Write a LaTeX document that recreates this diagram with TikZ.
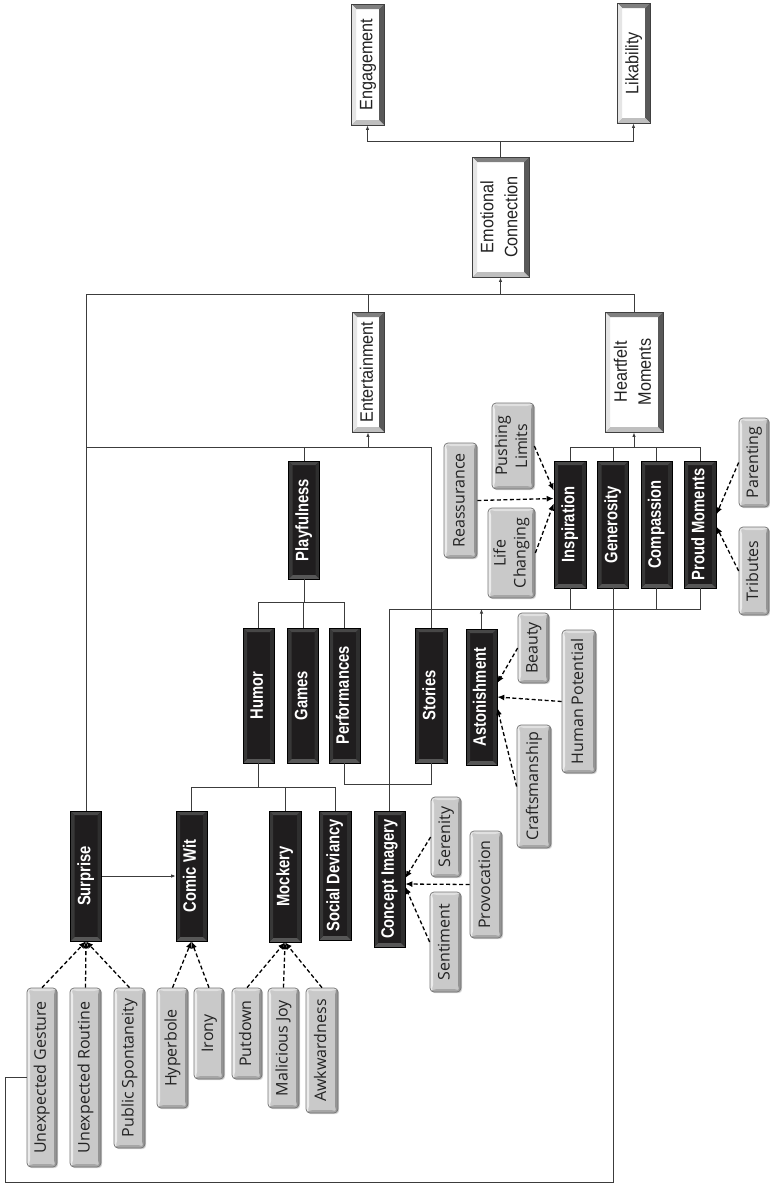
\documentclass[tikz,border=0pt]{standalone}
\usepackage{fontspec}
\usepackage{graphicx}
\usepackage{tikz}
\usetikzlibrary{arrows.meta,shadows,calc}
\setmainfont{Liberation Sans}
\newfontfamily\whitefont[FakeStretch=0.9]{Liberation Sans}
\newfontfamily\blackfont[FakeStretch=0.82]{Liberation Sans}
\newfontfamily\grayfont{Open Sans}
\definecolor{ink}{HTML}{222222}
\definecolor{wire}{HTML}{3C3C3C}
\definecolor{slab}{HTML}{1F1D1E}
\definecolor{pebble}{HTML}{C9C9C9}

\newcommand\vtxt[1]{\rotatebox{90}{\begin{tabular}{@{}c@{}}#1\end{tabular}}}

\tikzset{
  bevel/.style n args={5}{path picture={
      \coordinate (bA) at (path picture bounding box.north west);
      \coordinate (bB) at (path picture bounding box.north east);
      \coordinate (bC) at (path picture bounding box.south east);
      \coordinate (bD) at (path picture bounding box.south west);
      \fill[#1] (bA) -- (bB) -- ([shift={(-#5,-#5)}]bB) -- ([shift={(#5,-#5)}]bA) -- cycle;
      \fill[#2] (bB) -- (bC) -- ([shift={(-#5,#5)}]bC) -- ([shift={(-#5,-#5)}]bB) -- cycle;
      \fill[#3] (bC) -- (bD) -- ([shift={(#5,#5)}]bD) -- ([shift={(-#5,#5)}]bC) -- cycle;
      \fill[#4] (bD) -- (bA) -- ([shift={(#5,-#5)}]bA) -- ([shift={(#5,#5)}]bD) -- cycle;
  }},
  whitebox/.style={draw=black!75, line width=0.9pt, fill=white, inner sep=0pt, text=ink,
    font=\whitefont\fontsize{18}{24}\selectfont,
    bevel={black!50}{black!65}{black!25}{black!10}{5pt}},
  blackbox/.style={draw=black, line width=0.6pt, fill=slab, inner sep=0pt, text=white,
    font=\blackfont\bfseries\fontsize{18}{22}\selectfont,
    bevel={black!72}{black!82}{black!66}{black!78}{4pt}},
  graybox/.style={draw=black!55, line width=0.7pt, rounded corners=4pt, fill=pebble, inner sep=0pt, text=ink,
    font=\grayfont\fontsize{16}{20}\selectfont,
    drop shadow={shadow xshift=1.2pt, shadow yshift=-1.2pt, opacity=0.35},
    bevel={black!12}{black!42}{black!35}{black!8}{3pt}},
  conn/.style={draw=wire, line width=1pt},
  feed/.style={draw=black, line width=1.3pt, dash pattern=on 4pt off 2.5pt, -{Latex[length=7pt,width=6pt]}},
}

\begin{document}
\begin{tikzpicture}[x=1pt, y=-1pt, >={Latex[length=4.5pt,width=3.5pt]}]
\useasboundingbox (0,0) rectangle (769,1184);

% top level
\node[whitebox, minimum width=33pt, minimum height=121pt] (eng) at (367.5,64.5) {\vtxt{Engagement}};
\node[whitebox, minimum width=33pt, minimum height=120pt] (lik) at (633.5,63) {\vtxt{Likability}};
\node[whitebox, minimum width=57pt, minimum height=120pt] (emo) at (500.5,217) {\vtxt{Emotional\\Connection}};
\node[whitebox, minimum width=32pt, minimum height=120pt] (ent) at (368,372) {\vtxt{Entertainment}};
\node[whitebox, minimum width=58pt, minimum height=120pt] (heart) at (634,372) {\vtxt{Heartfelt\\Moments}};

% heartfelt side
\node[blackbox, minimum width=32pt, minimum height=127pt] (insp) at (570,524.5) {\vtxt{Inspiration}};
\node[blackbox, minimum width=31pt, minimum height=127pt] (gener) at (613,524.5) {\vtxt{Generosity}};
\node[blackbox, minimum width=31pt, minimum height=127pt] (compas) at (656.5,524.5) {\vtxt{Compassion}};
\node[blackbox, minimum width=32pt, minimum height=127pt] (proud) at (700,524.5) {\vtxt{Proud Moments}};
\node[graybox, minimum width=42pt, minimum height=86pt] (pushing) at (513,446) {\vtxt{Pushing\\Limits}};
\node[graybox, minimum width=33pt, minimum height=115pt] (reassure) at (460.5,500.5) {\vtxt{Reassurance}};
\node[graybox, minimum width=47pt, minimum height=90pt] (lifechg) at (511.5,553) {\vtxt{Life\\Changing}};
\node[graybox, minimum width=30pt, minimum height=89pt] (parent) at (754,462.5) {\vtxt{Parenting}};
\node[graybox, minimum width=30pt, minimum height=88pt] (tribute) at (754,571) {\vtxt{Tributes}};

% entertainment side
\node[blackbox, minimum width=31pt, minimum height=118pt] (play) at (304,520) {\vtxt{Playfulness}};
\node[blackbox, minimum width=31pt, minimum height=135pt] (humor) at (258.5,695.5) {\vtxt{Humor}};
\node[blackbox, minimum width=31pt, minimum height=135pt] (games) at (303,695.5) {\vtxt{Games}};
\node[blackbox, minimum width=31pt, minimum height=135pt] (perf) at (344.5,695.5) {\vtxt{Performances}};
\node[blackbox, minimum width=32pt, minimum height=135pt] (stories) at (431,695.5) {\vtxt{Stories}};
\node[blackbox, minimum width=31pt, minimum height=136pt] (astonish) at (481.5,697) {\vtxt{Astonishment}};
\node[graybox, minimum width=31pt, minimum height=70pt] (beauty) at (533.5,648) {\vtxt{Beauty}};
\node[graybox, minimum width=34pt, minimum height=143pt] (humpot) at (579,701.5) {\vtxt{Human Potential}};
\node[graybox, minimum width=34pt, minimum height=123pt] (craft) at (534,786.5) {\vtxt{Craftsmanship}};

\node[blackbox, minimum width=31pt, minimum height=130pt] (surprise) at (86,876) {\vtxt{Surprise}};
\node[blackbox, minimum width=31pt, minimum height=130pt] (comicwit) at (191.5,876) {\vtxt{Comic Wit}};
\node[blackbox, minimum width=32pt, minimum height=131pt] (mockery) at (285,876.5) {\vtxt{Mockery}};
\node[blackbox, minimum width=32pt, minimum height=129pt] (socdev) at (335,875.5) {\vtxt{Social Deviancy}};
\node[blackbox, minimum width=31pt, minimum height=136pt] (concept) at (389.5,879) {\vtxt{Concept Imagery}};
\node[graybox, minimum width=30pt, minimum height=80pt] (seren) at (446,837) {\vtxt{Serenity}};
\node[graybox, minimum width=32pt, minimum height=107pt] (provoc) at (486,884.5) {\vtxt{Provocation}};
\node[graybox, minimum width=31pt, minimum height=100pt] (sentim) at (445.5,942) {\vtxt{Sentiment}};

\node[graybox, minimum width=30pt, minimum height=179pt] (unexgest) at (42,1077.5) {\vtxt{Unexpected Gesture}};
\node[graybox, minimum width=31pt, minimum height=179pt] (unexrout) at (85.5,1077.5) {\vtxt{Unexpected Routine}};
\node[graybox, minimum width=31pt, minimum height=160pt] (pubspon) at (129.5,1068) {\vtxt{Public Spontaneity}};
\node[graybox, minimum width=31pt, minimum height=120pt] (hyper) at (172.5,1048) {\vtxt{Hyperbole}};
\node[graybox, minimum width=30pt, minimum height=91pt] (irony) at (209,1033.5) {\vtxt{Irony}};
\node[graybox, minimum width=30pt, minimum height=91pt] (putdown) at (247,1033.5) {\vtxt{Putdown}};
\node[graybox, minimum width=31pt, minimum height=120pt] (malijoy) at (283.5,1048) {\vtxt{Malicious Joy}};
\node[graybox, minimum width=32pt, minimum height=125pt] (awkward) at (322,1050.5) {\vtxt{Awkwardness}};

% bus heights
\coordinate (busA) at (0,141);
\coordinate (busB) at (0,294);
\coordinate (busC) at (0,447);
\coordinate (busD) at (0,602);
\coordinate (busE) at (0,609);
\coordinate (busF) at (0,784);
\coordinate (busG) at (0,787);
\coordinate (busH) at (5,1182);

% solid links
\draw[conn] (emo.north) -- (emo.north |- busA);
\draw[conn,->] (emo.north |- busA) -| (eng.south);
\draw[conn,->] (emo.north |- busA) -| (lik.south);
\draw[conn,->] (emo.south |- busB) -- (emo.south);
\draw[conn] (surprise.north) -- (surprise.north |- busB) -| (heart.north);
\draw[conn] (ent.north) -- (ent.north |- busB);

\draw[conn,->] (ent.south |- busC) -- (ent.south);
\draw[conn] (surprise.north |- busC) -| (stories.north);
\draw[conn] (play.north) -- (play.north |- busC);
\draw[conn,->] (heart.south |- busC) -- (heart.south);
\draw[conn] (insp.north) -- (insp.north |- busC) -| (proud.north);
\draw[conn] (gener.north) -- (gener.north |- busC);
\draw[conn] (compas.north) -- (compas.north |- busC);

\draw[conn] (play.south) -- (play.south |- busD);
\draw[conn] (humor.north) -- (humor.north |- busD) -| (perf.north);
\draw[conn] (games.north) -- (games.north |- busD);

\draw[conn] (concept.north) -- (concept.north |- busE) -| (proud.south);
\draw[conn] (insp.south) -- (insp.south |- busE);
\draw[conn] (compas.south) -- (compas.south |- busE);
\draw[conn,->] (astonish.north) -- (astonish.north |- busE);

\draw[conn] (perf.south) -- (perf.south |- busF) -| (stories.south);
\draw[conn] (humor.south) -- (humor.south |- busG);
\draw[conn] (comicwit.north) -- (comicwit.north |- busG) -| (socdev.north);
\draw[conn] (mockery.north) -- (mockery.north |- busG);

\draw[conn,->] (surprise.east) -- (comicwit.west);
\draw[conn] (gener.south) |- (busH) |- (unexgest.west);

% dashed feeders
\draw[feed] (unexgest.north) -- (surprise.south);
\draw[feed] (unexrout.north) -- (surprise.south);
\draw[feed] (pubspon.north) -- (surprise.south);
\draw[feed] (hyper.north) -- (comicwit.south);
\draw[feed] (irony.north) -- (comicwit.south);
\draw[feed] (putdown.north) -- (mockery.south);
\draw[feed] (malijoy.north) -- (mockery.south);
\draw[feed] (awkward.north) -- (mockery.south);
\draw[feed] (pushing.east) -- ([yshift=34pt]insp.west);
\draw[feed] (reassure.east) -- ([yshift=26pt]insp.west);
\draw[feed] (lifechg.east) -- ([yshift=21pt]insp.west);
\draw[feed] (parent.west) -- ([yshift=10pt]proud.east);
\draw[feed] (tribute.west) -- ([yshift=-2pt]proud.east);
\draw[feed] (beauty.west) -- ([yshift=14pt]astonish.east);
\draw[feed] (humpot.west) -- (astonish.east);
\draw[feed] (craft.west) -- ([yshift=-11pt]astonish.east);
\draw[feed] (seren.west) -- ([yshift=1pt]concept.east);
\draw[feed] (provoc.west) -- ([yshift=-5pt]concept.east);
\draw[feed] (sentim.west) -- ([yshift=-8pt]concept.east);
\end{tikzpicture}
\end{document}
